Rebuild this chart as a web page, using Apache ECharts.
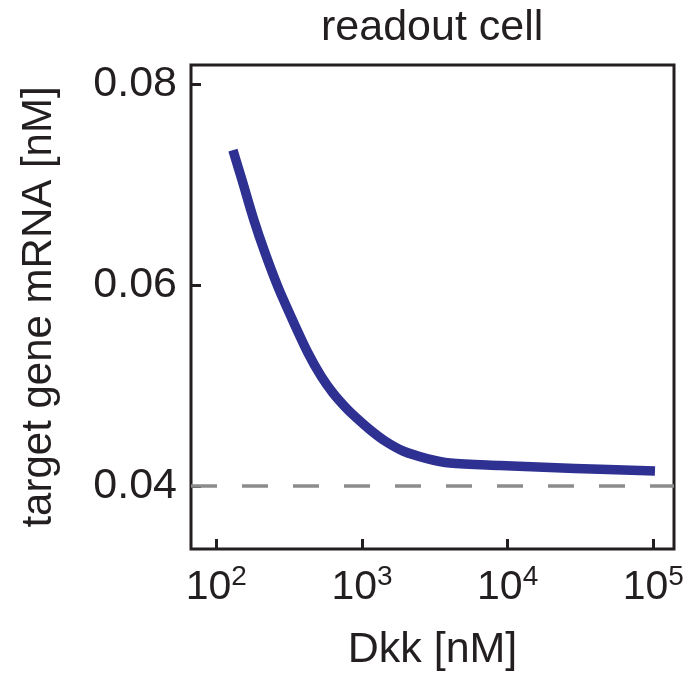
<!DOCTYPE html>
<html>
<head>
<meta charset="utf-8">
<script src="https://cdn.jsdelivr.net/npm/echarts@6/dist/echarts.min.js"></script>
<style>
html,body{margin:0;padding:0;background:#fff;}
#c{width:690px;height:677px;}
</style>
</head>
<body>
<div id="c"></div>
<script>
// Data
const dkk = [130, 150, 181, 216, 265, 336, 426, 523, 632, 764, 868, 1135, 1439, 1912, 2795, 4020, 8860, 19530, 43050, 102700];
const mrna = [0.07344, 0.07046, 0.06648, 0.06320, 0.05981, 0.05643, 0.05325, 0.05096, 0.04927, 0.04790, 0.04710, 0.04561, 0.04449, 0.04350, 0.04275, 0.04231, 0.04206, 0.04186, 0.04168, 0.04151];
const baseline = 0.0407;
const xTicks = [100, 1000, 10000, 100000];
const yTicks = [0.04, 0.06, 0.08];
const titleText = 'readout cell';
const xName = 'Dkk [nM]';
const yName = 'target gene mRNA [nM]';

const FONT = '"Liberation Sans", Arial, Helvetica, sans-serif';
const INK = '#231f20';

const chart = echarts.init(document.getElementById('c'), null, {renderer: 'canvas'});
chart.setOption({
  animation: false,
  backgroundColor: '#fff',
  title: {
    text: titleText,
    left: 321, top: 7, padding: 0,
    textStyle: {fontFamily: FONT, fontSize: 43, fontWeight: 'normal', color: INK}
  },
  grid: {
    left: 191, right: 16, top: 65, bottom: 128,
    show: true, borderColor: INK, borderWidth: 3, backgroundColor: 'transparent'
  },
  xAxis: {
    type: 'log', logBase: 10, min: 67, max: 138700,
    name: xName, nameLocation: 'middle', nameGap: 80,
    nameTextStyle: {fontFamily: FONT, fontSize: 43, color: INK},
    axisLine: {show: false},
    splitLine: {show: false},
    axisTick: {show: true, inside: true, length: 10, customValues: xTicks, lineStyle: {color: INK, width: 3}},
    axisLabel: {
      customValues: xTicks, margin: 14, color: INK,
      formatter: function (v) {
        const e = Math.round(Math.log10(v));
        return '{b|10}{s|' + e + '}';
      },
      rich: {
        b: {fontFamily: FONT, fontSize: 41, color: INK, verticalAlign: 'bottom'},
        s: {fontFamily: FONT, fontSize: 28, color: INK, verticalAlign: 'bottom', padding: [0, 0, 17, 0]}
      }
    }
  },
  yAxis: {
    type: 'value', min: 0.03375, max: 0.0819,
    name: yName, nameLocation: 'middle', nameGap: 131,
    nameTextStyle: {fontFamily: FONT, fontSize: 42, color: INK},
    axisLine: {show: false},
    splitLine: {show: false},
    axisTick: {show: true, inside: true, length: 10, customValues: yTicks, lineStyle: {color: INK, width: 3}},
    axisLabel: {
      customValues: yTicks, margin: 14, color: INK, fontFamily: FONT, fontSize: 43,
      formatter: function (v) { return v.toFixed(2); }
    }
  },
  series: [{
    type: 'line',
    data: dkk.map((x, i) => [x, mrna[i]]),
    showSymbol: false, symbol: 'none',
    smooth: 0.3,
    lineStyle: {color: '#2e3192', width: 9.5, cap: 'butt', join: 'round'},
    silent: true,
    z: 3,
    markLine: {
      silent: true, symbol: 'none', animation: false,
      label: {show: false},
      lineStyle: {color: '#8c8c8c', width: 3.5, type: [26, 25]},
      emphasis: {disabled: true},
      data: [{yAxis: baseline}]
    }
  }]
});
</script>
</body>
</html>
